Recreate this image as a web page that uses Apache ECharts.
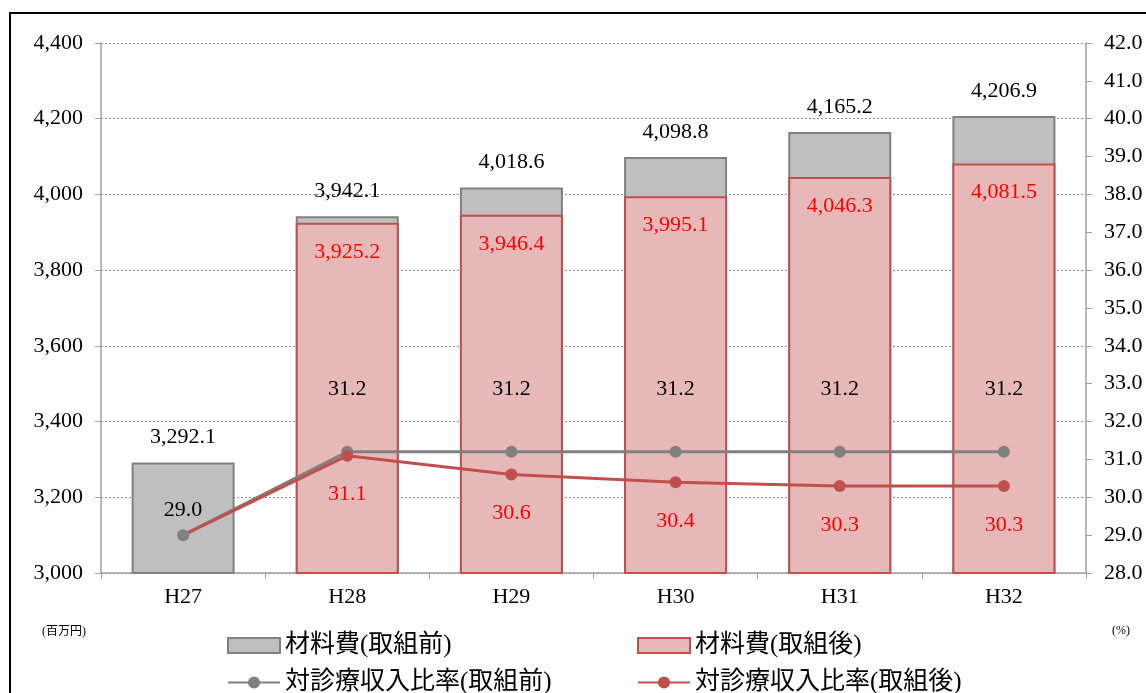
<!DOCTYPE html>
<html><head><meta charset="utf-8">
<script src="https://cdn.jsdelivr.net/npm/echarts@6/dist/echarts.min.js"></script>
<style>html,body{margin:0;padding:0;background:#fff}#c{width:1146px;height:693px}</style>
</head><body><div id="c"></div>
<script>
const categories = ['H27','H28','H29','H30','H31','H32'];
const costBefore = [3292.1, 3942.1, 4018.6, 4098.8, 4165.2, 4206.9];
const costAfter = [null, 3925.2, 3946.4, 3995.1, 4046.3, 4081.5];
const ratioBefore = [29.0, 31.2, 31.2, 31.2, 31.2, 31.2];
const ratioAfter = [29.0, 31.1, 30.6, 30.4, 30.3, 30.3];
const leftTicks = [3000, 4400, 200];
const rightTicks = [28, 42, 1];
const names = ['材料費(取組前)','材料費(取組後)','対診療収入比率(取組前)','対診療収入比率(取組後)'];

const SERIF = '"Liberation Serif","DejaVu Serif","Noto Sans CJK JP",serif';
const fmt1 = v => Number(v).toLocaleString('en-US',{minimumFractionDigits:1,maximumFractionDigits:1});
const GRAY='#808080', GRAYF='#bfbfbf', RED='#c0504d', PINK='#e6b8b7';
const FS = 22;

const legendPos = [[222,628],[632,628],[222,665],[632,665]];
const legends = names.map((n,i)=>({
  data:[{name:n, icon: i<2 ? 'rect' : undefined}],
  left:legendPos[i][0], top:legendPos[i][1], itemWidth:52, itemHeight:15,
  textStyle:{fontSize:25,fontFamily:SERIF,color:'#000'}
}));

const chart = echarts.init(document.getElementById('c'));
chart.setOption({
  animation:false,
  textStyle:{fontFamily:SERIF},
  grid:{left:101,right:60,top:43,bottom:120},
  graphic:[
    {type:'rect',shape:{x:10,y:13,width:1160,height:700},style:{fill:null,stroke:'#000',lineWidth:2},silent:true},
    {type:'text',left:42,top:626,style:{text:'(百万円)',fontSize:12,fontFamily:SERIF,fill:'#000'}},
    {type:'text',left:1112,top:625,style:{text:'(%)',fontSize:12,fontFamily:SERIF,fill:'#000'}}
  ],
  legend:legends,
  xAxis:{type:'category',data:categories,
    axisLine:{lineStyle:{color:'#a0a0a0',width:1.5}},
    axisTick:{show:true,length:6,lineStyle:{color:'#a0a0a0'}},
    axisLabel:{fontSize:FS,color:'#000',margin:13,fontFamily:SERIF}},
  yAxis:[
    {type:'value',min:leftTicks[0],max:leftTicks[1],interval:leftTicks[2],
     axisLine:{show:true,lineStyle:{color:'#a0a0a0',width:1.5}},
     axisTick:{show:true,inside:false,length:6,lineStyle:{color:'#a0a0a0'}},
     axisLabel:{fontSize:FS,color:'#000',margin:18,formatter:v=>v.toLocaleString('en-US'),fontFamily:SERIF},
     splitLine:{lineStyle:{color:'#8c8c8c',type:[2,2],width:1}}},
    {type:'value',min:rightTicks[0],max:rightTicks[1],interval:rightTicks[2],
     axisLine:{show:true,lineStyle:{color:'#a0a0a0',width:1.5}},
     axisTick:{show:true,length:6,lineStyle:{color:'#a0a0a0'}},
     axisLabel:{fontSize:FS,color:'#000',margin:18,formatter:v=>v.toFixed(1),fontFamily:SERIF},
     splitLine:{show:false}}
  ],
  series:[
    {name:names[0],type:'bar',data:costBefore,barWidth:103,barGap:'-100%',
     itemStyle:{color:GRAYF,borderColor:GRAY,borderWidth:2},
     label:{show:true,position:'top',distance:14,fontSize:FS,color:'#000',formatter:p=>fmt1(p.value),fontFamily:SERIF}},
    {name:names[1],type:'bar',data:costAfter,barWidth:103,
     itemStyle:{color:PINK,borderColor:RED,borderWidth:2},
     label:{show:true,position:'insideTop',distance:18,fontSize:FS,color:'#ff0000',formatter:p=>fmt1(p.value),fontFamily:SERIF}},
    {name:names[2],type:'line',yAxisIndex:1,data:ratioBefore.map((v,i)=>i===0?{value:v,label:{distance:8}}:v),
     symbol:'circle',symbolSize:12,lineStyle:{color:GRAY,width:3},itemStyle:{color:GRAY},
     label:{show:true,position:'top',distance:46,fontSize:FS,color:'#000',formatter:p=>fmt1(p.value),fontFamily:SERIF}},
    {name:names[3],type:'line',yAxisIndex:1,data:ratioAfter.map((v,i)=>i===0?{value:v,symbolSize:0,label:{show:false}}:v),
     symbol:'circle',symbolSize:12,lineStyle:{color:RED,width:3},itemStyle:{color:RED},
     label:{show:true,position:'bottom',distance:22,fontSize:FS,color:'#ff0000',formatter:p=>fmt1(p.value),fontFamily:SERIF}}
  ]
});
</script></body></html>
